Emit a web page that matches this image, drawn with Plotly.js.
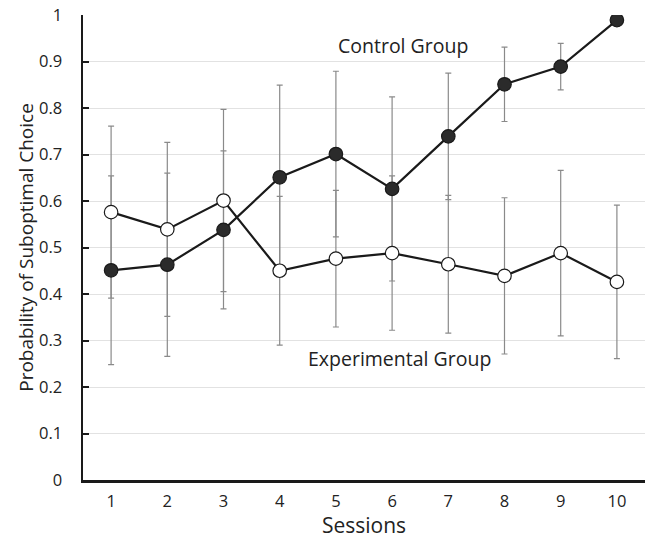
<!DOCTYPE html>
<html>
<head>
<meta charset="utf-8">
<script src="https://cdn.plot.ly/plotly-3.0.1.min.js"></script>
<style>html,body{margin:0;padding:0;background:#fff;}#chart{width:648px;height:539px;}</style>
</head>
<body>
<div id="chart"></div>
<script>
var sessions = [1, 2, 3, 4, 5, 6, 7, 8, 9, 10];
var controlValues = [0.451, 0.463, 0.538, 0.651, 0.701, 0.626, 0.739, 0.851, 0.889, 0.989];
var controlErrors = [0.203, 0.197, 0.170, 0.198, 0.178, 0.198, 0.136, 0.080, 0.050, 0];
var experimentalValues = [0.576, 0.539, 0.601, 0.450, 0.476, 0.488, 0.464, 0.439, 0.488, 0.426];
var experimentalErrors = [0.185, 0.187, 0.196, 0.160, 0.147, 0.166, 0.148, 0.168, 0.178, 0.165];
var yTicks = [0, 0.1, 0.2, 0.3, 0.4, 0.5, 0.6, 0.7, 0.8, 0.9, 1];
var yTickText = ['0', '0.1', '0.2', '0.3', '0.4', '0.5', '0.6', '0.7', '0.8', '0.9', '1'];

var font = 'Open Sans, Lato, sans-serif';

var errStyle = {type: 'data', visible: true, color: '#8a8a8a', thickness: 1.2, width: 3};

var traces = [
  {
    x: sessions, y: experimentalValues, type: 'scatter', mode: 'lines',
    line: {color: '#1a1a1a', width: 2.2}, hoverinfo: 'skip', showlegend: false,
    error_y: Object.assign({array: experimentalErrors}, errStyle)
  },
  {
    x: sessions, y: controlValues, type: 'scatter', mode: 'lines',
    line: {color: '#1a1a1a', width: 2.2}, hoverinfo: 'skip', showlegend: false,
    error_y: Object.assign({array: controlErrors}, errStyle)
  },
  {
    x: sessions, y: experimentalValues, type: 'scatter', mode: 'markers',
    marker: {size: 13.5, color: '#ffffff', line: {color: '#1a1a1a', width: 1.2}},
    showlegend: false, name: 'Experimental Group'
  },
  {
    x: sessions, y: controlValues, type: 'scatter', mode: 'markers',
    marker: {size: 13.5, color: '#2b2b2b', line: {color: '#1a1a1a', width: 1.2}},
    showlegend: false, name: 'Control Group'
  }
];

var layout = {
  width: 648, height: 539,
  margin: {l: 83, r: 3, t: 15, b: 59},
  paper_bgcolor: '#ffffff', plot_bgcolor: '#ffffff',
  font: {family: font, color: '#222222', size: 16},
  showlegend: false,
  xaxis: {
    range: [0.5, 10.5],
    tickvals: sessions,
    ticktext: sessions.map(String),
    showgrid: false, zeroline: false,
    showline: true, linecolor: '#1a1a1a', linewidth: 2.5,
    ticks: '', ticklabelstandoff: 5,
    tickfont: {size: 16.5, family: font, color: '#222222'},
    title: {text: 'Sessions', font: {size: 21, family: font, color: '#222222'}, standoff: 1}
  },
  yaxis: {
    range: [0, 1],
    tickvals: yTicks,
    ticktext: yTickText,
    showgrid: true, gridcolor: '#e2e2e2', gridwidth: 1,
    zeroline: false,
    showline: true, linecolor: '#1a1a1a', linewidth: 2.5,
    ticks: 'inside', ticklen: 6, tickwidth: 2, tickcolor: '#1a1a1a',
    ticklabelstandoff: 15,
    tickfont: {size: 16.5, family: font, color: '#222222'},
    title: {text: 'Probability of Suboptimal Choice', font: {size: 19, family: font, color: '#222222'}, standoff: 1}
  },
  annotations: [
    {x: 6.19, y: 0.935, xref: 'x', yref: 'y', text: 'Control Group', showarrow: false,
     font: {size: 19.5, family: font, color: '#222222'}, xanchor: 'center', yanchor: 'middle'},
    {x: 6.14, y: 0.262, xref: 'x', yref: 'y', text: 'Experimental Group', showarrow: false,
     font: {size: 19.5, family: font, color: '#222222'}, xanchor: 'center', yanchor: 'middle'}
  ]
};

Plotly.newPlot('chart', traces, layout, {displayModeBar: false, staticPlot: true});
</script>
</body>
</html>
